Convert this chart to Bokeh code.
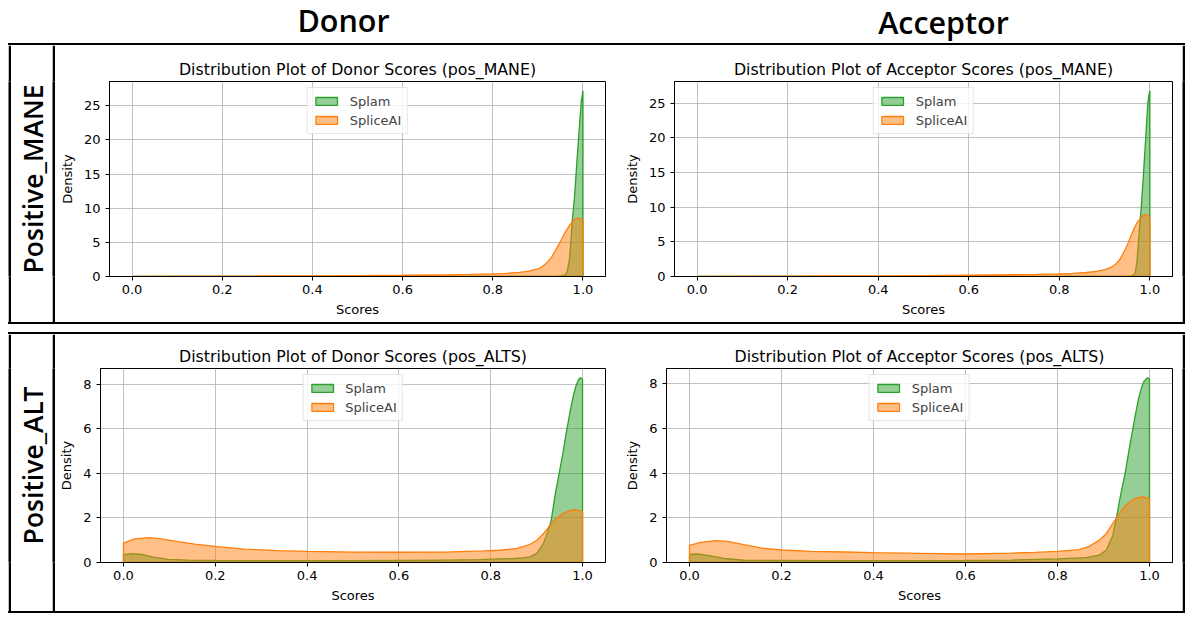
from bokeh.plotting import figure
from bokeh.layouts import row, column
from bokeh.models import (Spacer, FixedTicker, PrintfTickFormatter, Range1d,
                          Legend, LegendItem, Label)
from bokeh.embed import file_html
from bokeh.resources import INLINE
import math

# ---------------- data ----------------
col_headers = ["Donor", "Acceptor"]
row_headers = ["Positive_MANE", "Positive_ALT"]
series_names = ["Splam", "SpliceAI"]
x_tick_values = [0.0, 0.2, 0.4, 0.6, 0.8, 1.0]
y_ticks_mane = [0, 5, 10, 15, 20, 25]
y_ticks_alts = [0, 2, 4, 6, 8]

# Donor, pos_MANE
donor_mane_splam_x = [0.0, 0.2, 0.4, 0.6, 0.8, 0.9, 0.94, 0.95, 0.955, 0.96, 0.963, 0.966,
                      0.970, 0.973, 0.976, 0.979, 0.9815, 0.984, 0.9867, 0.989, 0.9926,
                      0.9963, 1.0]
donor_mane_splam_y = [0.0, 0.0, 0.0, 0.0, 0.01, 0.02, 0.04, 0.08, 0.15, 0.25, 0.45, 1.0,
                      2.5, 4.8, 8.0, 10.0, 11.8, 14.3, 17.0, 19.0, 22.4, 25.6, 27.2]
donor_mane_spliceai_x = [0.0, 0.1, 0.2, 0.3, 0.4, 0.5, 0.6, 0.7, 0.75, 0.8, 0.83, 0.86,
                         0.88, 0.9, 0.91, 0.92, 0.93, 0.94, 0.95, 0.96, 0.97, 0.975,
                         0.98, 0.985, 0.99, 0.995, 1.0]
donor_mane_spliceai_y = [0.03, 0.04, 0.05, 0.07, 0.09, 0.13, 0.18, 0.25, 0.30, 0.38, 0.47,
                         0.60, 0.78, 1.1, 1.45, 2.0, 2.8, 3.9, 5.1, 6.4, 7.5, 7.9, 8.25,
                         8.5, 8.55, 8.45, 8.3]

# Acceptor, pos_MANE
acc_mane_splam_x = [0.0, 0.2, 0.4, 0.6, 0.8, 0.9, 0.94, 0.955, 0.96, 0.9646, 0.9665,
                    0.9683, 0.970, 0.972, 0.974, 0.9764, 0.9808, 0.9853, 0.9904, 0.9956,
                    0.998, 1.0]
acc_mane_splam_y = [0.0, 0.0, 0.0, 0.0, 0.01, 0.02, 0.04, 0.08, 0.12, 0.25, 0.5, 0.8,
                    1.5, 2.5, 4.3, 6.4, 9.8, 14.2, 19.5, 25.1, 26.2, 26.8]
acc_mane_spliceai_x = [0.0, 0.1, 0.2, 0.3, 0.4, 0.5, 0.6, 0.7, 0.75, 0.8, 0.83, 0.86, 0.88,
                       0.9, 0.914, 0.925, 0.932, 0.94, 0.95, 0.958, 0.965, 0.972, 0.979,
                       0.985, 0.99, 0.995, 1.0]
acc_mane_spliceai_y = [0.03, 0.04, 0.05, 0.07, 0.09, 0.13, 0.18, 0.25, 0.30, 0.36, 0.45,
                       0.58, 0.72, 1.0, 1.3, 1.8, 2.3, 3.2, 4.5, 5.8, 6.9, 7.8, 8.4, 8.8,
                       8.95, 8.85, 8.5]

# Donor, pos_ALTS
donor_alts_splam_x = [0.0, 0.017, 0.039, 0.068, 0.097, 0.14, 0.2, 0.3, 0.4, 0.5, 0.6, 0.7,
                      0.776, 0.82, 0.85, 0.87, 0.885, 0.9, 0.9146, 0.92, 0.926, 0.9318,
                      0.94, 0.95, 0.958, 0.966, 0.974, 0.98, 0.986, 0.991, 0.995, 1.0]
donor_alts_splam_y = [0.35, 0.40, 0.36, 0.23, 0.14, 0.11, 0.09, 0.08, 0.08, 0.08, 0.09,
                      0.11, 0.13, 0.16, 0.18, 0.21, 0.25, 0.40, 0.85, 1.15, 1.5, 1.9, 3.0,
                      4.1, 5.0, 6.0, 6.9, 7.5, 7.95, 8.2, 8.3, 8.24]
donor_alts_spliceai_x = [0.0, 0.024, 0.057, 0.082, 0.119, 0.155, 0.2, 0.264, 0.337, 0.4,
                         0.5, 0.6, 0.7, 0.75, 0.784, 0.82, 0.857, 0.886, 0.901, 0.915,
                         0.932, 0.94, 0.95, 0.96, 0.97, 0.98, 0.99, 1.0]
donor_alts_spliceai_y = [0.87, 1.06, 1.12, 1.06, 0.94, 0.83, 0.72, 0.60, 0.53, 0.50, 0.47,
                         0.46, 0.47, 0.50, 0.52, 0.55, 0.63, 0.82, 1.0, 1.3, 1.75, 1.93,
                         2.1, 2.23, 2.32, 2.37, 2.35, 2.27]

# Acceptor, pos_ALTS
acc_alts_splam_x = [0.0, 0.017, 0.046, 0.075, 0.118, 0.2, 0.3, 0.4, 0.5, 0.6, 0.7, 0.8,
                    0.862, 0.891, 0.906, 0.92, 0.929, 0.936, 0.942, 0.948, 0.956, 0.964,
                    0.971, 0.977, 0.983, 0.988, 0.9957, 1.0]
acc_alts_splam_y = [0.36, 0.38, 0.30, 0.18, 0.10, 0.09, 0.08, 0.08, 0.08, 0.09, 0.11, 0.16,
                    0.22, 0.33, 0.55, 1.2, 2.1, 2.9, 3.5, 4.1, 5.1, 6.0, 6.8, 7.4, 7.85,
                    8.1, 8.27, 8.2]
acc_alts_spliceai_x = [0.0, 0.024, 0.057, 0.082, 0.118, 0.155, 0.2, 0.264, 0.336, 0.4, 0.5,
                       0.6, 0.7, 0.75, 0.8, 0.847, 0.869, 0.891, 0.906, 0.92, 0.934, 0.945,
                       0.956, 0.971, 0.985, 1.0]
acc_alts_spliceai_y = [0.77, 0.90, 0.98, 0.95, 0.80, 0.65, 0.56, 0.50, 0.47, 0.44, 0.41,
                       0.38, 0.42, 0.45, 0.50, 0.58, 0.72, 1.0, 1.29, 1.74, 2.18, 2.5, 2.7,
                       2.88, 2.95, 2.85]

GREEN = "#2ca02c"
ORANGE = "#ff7f0e"
FONT = "DejaVu Sans"
HEAD_FONT = "'Open Sans SemiBold', 'Open Sans'"


def make_plot(title, splam_x, splam_y, sai_x, sai_y, yticks, width, height,
              bl, br, bt, bb):
    ymax = 1.05 * max(max(splam_y), max(sai_y))
    p = figure(width=width, height=height, x_range=Range1d(-0.05, 1.05),
               y_range=Range1d(0, ymax), output_backend="svg",
               toolbar_location=None, title=title,
               min_border_left=bl, min_border_right=br,
               min_border_top=bt, min_border_bottom=bb)
    p.title.align = "center"
    p.title.text_font = FONT
    p.title.text_font_size = "15.8px"
    p.title.text_font_style = "normal"
    p.title.text_color = "black"
    p.title.standoff = 6

    renderers = []
    for xs, ys, color in ((splam_x, splam_y, GREEN), (sai_x, sai_y, ORANGE)):
        px = [xs[0]] + list(xs) + [xs[-1]]
        py = [0.0] + list(ys) + [0.0]
        r = p.patch(px, py, fill_color=color, fill_alpha=0.5,
                    line_color=color, line_width=1.3)
        renderers.append(r)

    p.xaxis.ticker = FixedTicker(ticks=x_tick_values)
    p.xaxis.formatter = PrintfTickFormatter(format="%.1f")
    p.yaxis.ticker = FixedTicker(ticks=yticks)
    p.xaxis.axis_label = "Scores"
    p.yaxis.axis_label = "Density"
    for ax in (p.xaxis, p.yaxis):
        ax.axis_label_text_font = FONT
        ax.axis_label_text_font_size = "13px"
        ax.axis_label_text_font_style = "normal"
        ax.axis_label_text_color = "black"
        ax.major_label_text_font = FONT
        ax.major_label_text_font_size = "13px"
        ax.major_label_text_color = "black"
        ax.major_tick_out = 4
        ax.major_tick_in = 0
        ax.minor_tick_line_color = None
        ax.major_tick_line_color = "black"
        ax.axis_line_color = "black"
        ax.major_label_standoff = 4
        ax.axis_label_standoff = 6
    p.yaxis.major_label_standoff = 5
    p.xaxis.axis_label_standoff = 5
    p.grid.grid_line_color = "#b0b0b0"
    p.grid.grid_line_width = 0.8
    p.outline_line_color = "black"
    p.outline_line_width = 1
    p.outline_line_alpha = 1

    legend = Legend(items=[LegendItem(label=series_names[0], renderers=[renderers[0]]),
                           LegendItem(label=series_names[1], renderers=[renderers[1]])],
                    location="top_center", margin=6, padding=5, spacing=3,
                    glyph_width=27, glyph_height=10, label_standoff=10,
                    label_height=16, label_text_font=FONT,
                    label_text_font_size="13px", border_line_color="#cccccc",
                    border_line_width=1, background_fill_alpha=0.8)
    p.add_layout(legend)
    return p


def solid(width, height):
    f = figure(width=width, height=height, output_backend="svg", toolbar_location=None,
               x_axis_type=None, y_axis_type=None, min_border=0,
               background_fill_color="black", border_fill_color="black",
               outline_line_color=None, x_range=Range1d(0, 1), y_range=Range1d(0, 1))
    f.grid.visible = False
    return f


def row_label(text, width, height):
    f = figure(width=width, height=height, output_backend="svg", toolbar_location=None,
               x_axis_type=None, y_axis_type=None, min_border=0,
               outline_line_color=None, x_range=Range1d(0, width),
               y_range=Range1d(0, height))
    f.grid.visible = False
    f.add_layout(Label(x=width / 2 + 1, y=height / 2, text=text, angle=math.pi / 2,
                       text_align="center", text_baseline="middle",
                       text_font=HEAD_FONT, text_font_size="26.5px",
                       text_font_style="normal", text_color="black"))
    return f


# ---------------- header ----------------
HW = 1185
HH = 43
header = figure(width=HW, height=HH, output_backend="svg", toolbar_location=None,
                x_axis_type=None, y_axis_type=None, min_border=0,
                outline_line_color=None, x_range=Range1d(0, HW), y_range=Range1d(0, HH))
header.grid.visible = False
header.add_layout(Label(x=343, y=HH - 19, text=col_headers[0], text_align="center",
                        text_baseline="middle", text_font=HEAD_FONT,
                        text_font_size="30.5px", text_font_style="normal",
                        text_color="black"))
header.add_layout(Label(x=943, y=HH - 21.5, text=col_headers[1], text_align="center",
                        text_baseline="middle", text_font=HEAD_FONT,
                        text_font_size="30.5px", text_font_style="normal",
                        text_color="black"))

RH = 277
AW = 557   # figure widths of the two plot columns
BW = 570

p11 = make_plot("Distribution Plot of Donor Scores (pos_MANE)",
                donor_mane_splam_x, donor_mane_splam_y,
                donor_mane_spliceai_x, donor_mane_spliceai_y,
                y_ticks_mane, AW, RH, 54, 7, 36, 46)
p12 = make_plot("Distribution Plot of Acceptor Scores (pos_MANE)",
                acc_mane_splam_x, acc_mane_splam_y,
                acc_mane_spliceai_x, acc_mane_spliceai_y,
                y_ticks_mane, BW, RH, 62, 10, 36, 46)
p21 = make_plot("Distribution Plot of Donor Scores (pos_ALTS)",
                donor_alts_splam_x, donor_alts_splam_y,
                donor_alts_spliceai_x, donor_alts_spliceai_y,
                y_ticks_alts, AW, RH, 45, 7, 34, 49)
p22 = make_plot("Distribution Plot of Acceptor Scores (pos_ALTS)",
                acc_alts_splam_x, acc_alts_splam_y,
                acc_alts_spliceai_x, acc_alts_spliceai_y,
                y_ticks_alts, BW, RH, 54, 10, 34, 49)

BOXW = 3 + 41 + 3 + AW + BW + 3


def boxed_row(label, pa, pb):
    return row(Spacer(width=8), solid(3, RH), row_label(label, 41, RH), solid(3, RH),
               pa, pb, solid(3, RH))


def hline():
    return row(Spacer(width=8),
               Spacer(width=BOXW, height=2, styles={"background-color": "black"}))


layout = column(header,
                hline(), boxed_row(row_headers[0], p11, p12), hline(),
                Spacer(height=8),
                hline(), boxed_row(row_headers[1], p21, p22), hline())

open("out.html", "w").write(file_html(layout, INLINE))
